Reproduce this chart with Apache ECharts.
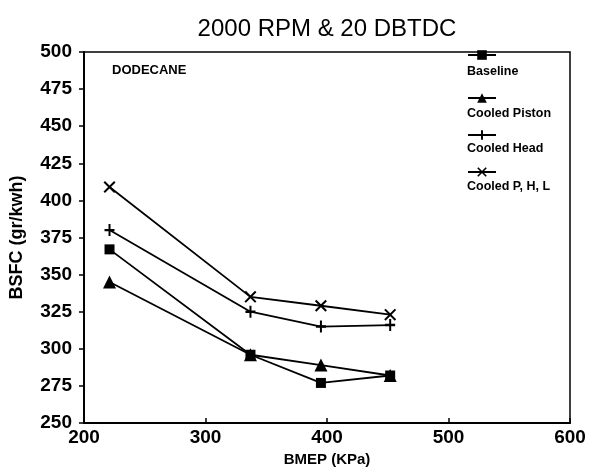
<!DOCTYPE html>
<html><head><meta charset="utf-8">
<script src="https://cdn.jsdelivr.net/npm/echarts@6/dist/echarts.min.js"></script>
<style>html,body{margin:0;padding:0;background:#fff}#c{width:600px;height:472px}</style>
</head><body><div id="c"></div>
<script>
// BMEP (KPa) values of the four test points
const bmep = [221, 337, 395, 452];
const seriesNames = ['Baseline', 'Cooled Piston', 'Cooled Head', 'Cooled P, H, L'];
// BSFC (gr/kwh)
const baseline = [367, 296, 277, 282];
const cooledPiston = [345, 296, 289, 282];
const cooledHead = [380, 325, 315, 316];
const cooledPHL = [409, 335, 329, 323];
const xTicks = [200, 300, 400, 500, 600];
const yTicks = [250, 275, 300, 325, 350, 375, 400, 425, 450, 475, 500];

const plusPath = 'path://M4,0h2v10h-2zM0,4h10v2h-10z';
const crossPath = 'path://M0,1.2L1.2,0L10,8.8L8.8,10ZM8.8,0L10,1.2L1.2,10L0,8.8Z';
const values = [baseline, cooledPiston, cooledHead, cooledPHL];
const symbols = ['rect', 'triangle', plusPath, crossPath];
const symbolSizes = [10, 13, [10, 12], 12];

const chart = echarts.init(document.getElementById('c'));
const FONT = 'Liberation Sans';
const legendTops = [44, 87, 124, 161];
const labelTops = [65, 107, 142, 180];

chart.setOption({
  animation: false,
  backgroundColor: '#fff',
  title: {
    text: '2000 RPM & 20 DBTDC',
    left: 322, top: 12, textAlign: 'center',
    textStyle: {fontFamily: FONT, fontSize: 24, fontWeight: 'normal', color: '#000'}
  },
  grid: {left: 83, right: 30, top: 52, bottom: 49, show: true, borderColor: '#000', borderWidth: 1.5},
  legend: seriesNames.map((n, i) => ({
    data: [n], left: 462, top: legendTops[i], orient: 'vertical',
    itemWidth: 28, itemHeight: 12, formatter: () => '',
    textStyle: {fontSize: 1}, selectedMode: false
  })),
  xAxis: {
    type: 'value', min: xTicks[0], max: xTicks[xTicks.length - 1], interval: 100,
    name: 'BMEP (KPa)', nameLocation: 'middle', nameGap: 27,
    nameTextStyle: {fontFamily: FONT, fontSize: 15, fontWeight: 'bold', color: '#000'},
    axisLine: {lineStyle: {color: '#000', width: 2}},
    axisTick: {inside: true, length: 5, lineStyle: {color: '#000', width: 1.5}},
    axisLabel: {margin: 5, fontFamily: FONT, fontSize: 19, fontWeight: 'bold', color: '#000'},
    splitLine: {show: false}
  },
  yAxis: {
    type: 'value', min: yTicks[0], max: yTicks[yTicks.length - 1], interval: 25,
    name: 'BSFC (gr/kwh)', nameLocation: 'middle', nameGap: 58,
    nameTextStyle: {fontFamily: FONT, fontSize: 18, fontWeight: 'bold', color: '#000'},
    axisLine: {show: true, lineStyle: {color: '#000', width: 2}},
    axisTick: {show: true, inside: false, length: 5, lineStyle: {color: '#000', width: 1.5}},
    axisLabel: {margin: 12, fontFamily: FONT, fontSize: 19, fontWeight: 'bold', color: '#000'},
    splitLine: {show: false}
  },
  graphic: [
    {type: 'text', left: 112, top: 64, style: {text: 'DODECANE', fontFamily: FONT, fontSize: 13, fontWeight: 'bold', fill: '#000'}}
  ].concat(seriesNames.map((n, i) => ({
    type: 'text', left: 467, top: labelTops[i],
    style: {text: n, fontFamily: FONT, fontSize: 12.5, fontWeight: 'bold', fill: '#000'}
  }))),
  series: seriesNames.map((n, i) => ({
    name: n, type: 'line',
    data: bmep.map((x, j) => [x, values[i][j]]),
    symbol: symbols[i], symbolSize: symbolSizes[i],
    lineStyle: {color: '#000', width: 1.8},
    itemStyle: {color: '#000'},
    z: 3 + i
  }))
});
</script></body></html>
